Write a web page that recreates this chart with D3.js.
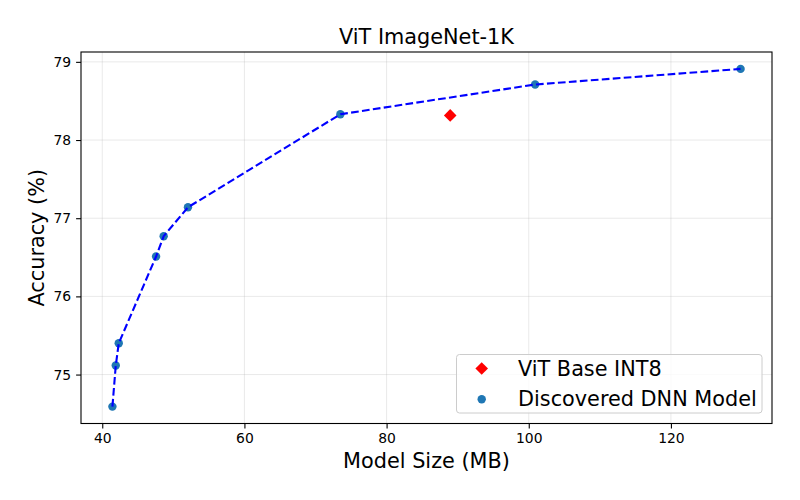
<!DOCTYPE html>
<html><head><meta charset="utf-8">
<script src="https://cdn.jsdelivr.net/npm/d3@7"></script>
<style>body{margin:0;background:#fff;} text{font-family:"DejaVu Sans",sans-serif;}</style>
</head><body>
<svg id="c" width="800" height="500"></svg>
<script>
const modelSize = [41.43, 41.9, 42.32, 47.57, 48.64, 52.06, 73.5, 100.9, 129.8];
const accuracy  = [74.59, 75.115, 75.40, 76.51, 76.77, 77.14, 78.33, 78.71, 78.91];
const baseline = [{size: 88.95, acc: 78.315}];
const xTicks = [40, 60, 80, 100, 120];
const yTicks = [75, 76, 77, 78, 79];
const titleText = "ViT ImageNet-1K";
const xLabel = "Model Size (MB)";
const yLabel = "Accuracy (%)";
const legendLabels = ["ViT Base INT8", "Discovered DNN Model"];

const svg = d3.select("#c");
const L = 81, R = 772, T = 52, B = 423.5;
const x = d3.scaleLinear().domain([37.01, 134.22]).range([L, R]);
const y = d3.scaleLinear().domain([74.374, 79.126]).range([B, T]);

// grid
const g = svg.append("g");
g.selectAll(".gx").data(xTicks).join("line")
  .attr("x1", d => x(d)).attr("x2", d => x(d)).attr("y1", T).attr("y2", B)
  .attr("stroke", "#b0b0b0").attr("stroke-opacity", 0.35).attr("stroke-width", 0.8);
g.selectAll(".gy").data(yTicks).join("line")
  .attr("y1", d => y(d)).attr("y2", d => y(d)).attr("x1", L).attr("x2", R)
  .attr("stroke", "#b0b0b0").attr("stroke-opacity", 0.35).attr("stroke-width", 0.8);

// axes
const xa = svg.append("g").attr("transform", `translate(0,${B})`)
  .call(d3.axisBottom(x).tickValues(xTicks).tickSize(4.9).tickPadding(4.9).tickFormat(d3.format("d")));
const ya = svg.append("g").attr("transform", `translate(${L},0)`)
  .call(d3.axisLeft(y).tickValues(yTicks).tickSize(4.9).tickPadding(4.9).tickFormat(d3.format("d")));
[xa, ya].forEach(a => {
  a.select(".domain").remove();
  a.selectAll("line").attr("stroke", "#000").attr("stroke-width", 1.1);
  a.selectAll("text").attr("font-size", 13.9).attr("fill", "#000").attr("font-family", "DejaVu Sans");
});

// frame
svg.append("rect").attr("x", L).attr("y", T).attr("width", R - L).attr("height", B - T)
  .attr("fill", "none").attr("stroke", "#000").attr("stroke-width", 1.1);

const pts = modelSize.map((s, i) => ({size: s, acc: accuracy[i]}));

// points
svg.selectAll(".pt").data(pts).join("circle")
  .attr("cx", d => x(d.size)).attr("cy", d => y(d.acc)).attr("r", 4.2)
  .attr("fill", "#1f77b4");

// dashed line
svg.append("path").datum(pts)
  .attr("d", d3.line().x(d => x(d.size)).y(d => y(d.acc)))
  .attr("fill", "none").attr("stroke", "#0000ff").attr("stroke-width", 2.1)
  .attr("stroke-dasharray", "7.7,3.3");

// baseline diamond
const diamond = (cx, cy, r) => `M${cx},${cy - r}L${cx + r},${cy}L${cx},${cy + r}L${cx - r},${cy}Z`;
svg.selectAll(".bl").data(baseline).join("path")
  .attr("d", d => diamond(x(d.size), y(d.acc), 6.3)).attr("fill", "#ff0000");

// title & labels
svg.append("text").attr("x", (L + R) / 2).attr("y", 44).attr("text-anchor", "middle")
  .attr("font-size", 20.8).text(titleText);
svg.append("text").attr("x", (L + R) / 2).attr("y", 468).attr("text-anchor", "middle")
  .attr("font-size", 20.8).text(xLabel);
svg.append("text").attr("transform", `translate(44,${(T + B) / 2}) rotate(-90)`)
  .attr("text-anchor", "middle").attr("font-size", 20.8).text(yLabel);

// legend
const lg = svg.append("g");
lg.append("rect").attr("x", 456.5).attr("y", 354.5).attr("width", 305.5).attr("height", 58.5)
  .attr("rx", 3).attr("fill", "#fff").attr("fill-opacity", 0.8)
  .attr("stroke", "#cccccc").attr("stroke-width", 1);
lg.append("path").attr("d", diamond(481.7, 368.5, 6.3)).attr("fill", "#ff0000");
lg.append("circle").attr("cx", 481.7).attr("cy", 399.3).attr("r", 4.2).attr("fill", "#1f77b4");
lg.append("text").attr("x", 518).attr("y", 375.5).attr("font-size", 20.8).text(legendLabels[0]);
lg.append("text").attr("x", 518).attr("y", 405.5).attr("font-size", 20.8).text(legendLabels[1]);
</script>
</body></html>
